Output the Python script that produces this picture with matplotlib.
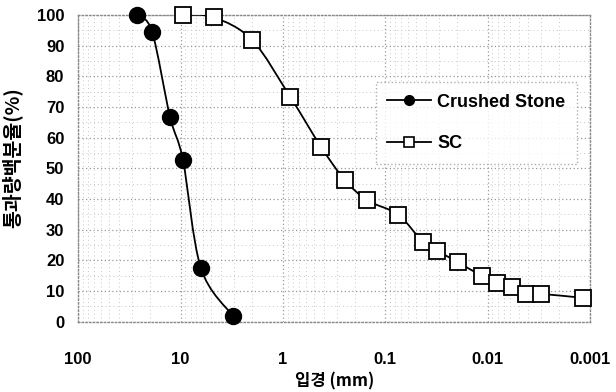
import numpy as np
import matplotlib
matplotlib.use('Agg')
import matplotlib.pyplot as plt
from matplotlib.path import Path
from matplotlib.patches import PathPatch
from matplotlib.ticker import FixedLocator, NullFormatter

# data
stone_d = [26.5, 19.0, 12.7, 9.5, 6.35, 3.1]
stone_pass = [100, 94.5, 66.8, 52.8, 17.6, 2.0]

sc_d = [9.5, 4.75, 2.0, 0.85, 0.425, 0.25, 0.15, 0.075, 0.043, 0.031,
        0.0197, 0.0115, 0.0081, 0.0058, 0.0042, 0.0030, 0.00117]
sc_pass = [100, 99.2, 91.8, 73.3, 57.0, 46.3, 39.6, 34.9, 26.0, 23.1,
           19.5, 15.0, 12.7, 11.4, 9.1, 9.1, 7.8]

x_ticks = [100, 10, 1, 0.1, 0.01, 0.001]
x_ticklabels = ['100', '10', '1', '0.1', '0.01', '0.001']
y_ticks = list(range(0, 101, 10))

kfont = ['Noto Sans CJK KR', 'DejaVu Sans']
plt.rcParams['font.family'] = ['Liberation Sans', 'DejaVu Sans']


def smooth_path(x, y, ax):
    """Excel-like smoothed line: Catmull-Rom in log-x space as cubic beziers"""
    lx = np.log10(np.asarray(x, float))
    yy = np.asarray(y, float)
    n = len(lx)
    verts = [(lx[0], yy[0])]
    codes = [Path.MOVETO]
    for i in range(n - 1):
        p0 = (lx[max(i - 1, 0)], yy[max(i - 1, 0)])
        p1 = (lx[i], yy[i])
        p2 = (lx[i + 1], yy[i + 1])
        p3 = (lx[min(i + 2, n - 1)], yy[min(i + 2, n - 1)])
        c1 = (p1[0] + (p2[0] - p0[0]) / 6, p1[1] + (p2[1] - p0[1]) / 6)
        c2 = (p2[0] - (p3[0] - p1[0]) / 6, p2[1] - (p3[1] - p1[1]) / 6)
        verts += [c1, c2, p2]
        codes += [Path.CURVE4] * 3
    verts = [(10 ** vx, vy) for vx, vy in verts]
    patch = PathPatch(Path(verts, codes), facecolor='none', edgecolor='black',
                      lw=1.3, transform=ax.transData, zorder=3)
    ax.add_patch(patch)


fig = plt.figure(figsize=(6.16, 3.92), dpi=100)
ax = fig.add_axes([0.127, 0.179, 0.831, 0.783])
ax.set_xscale('log')
ax.set_xlim(100, 0.001)
ax.set_ylim(0, 100)

smooth_path(stone_d, stone_pass, ax)
smooth_path(sc_d, sc_pass, ax)

ax.plot(stone_d, stone_pass, linestyle='none', marker='o', ms=11.5,
        mfc='black', mec='black', zorder=4, clip_on=False)
ax.plot(sc_d, sc_pass, linestyle='none', marker='s', ms=11, mfc='white',
        mec='black', mew=1.3, zorder=4, clip_on=False)

# legend handles (line + marker)
h1, = ax.plot([], [], color='black', lw=1.3, marker='o', ms=7, mfc='black',
              mec='black', label='Crushed Stone')
h2, = ax.plot([], [], color='black', lw=1.3, marker='s', ms=7, mfc='white',
              mec='black', mew=1.2, label='SC')
leg = ax.legend(handles=[h1, h2], loc='upper left', bbox_to_anchor=(0.581, 0.782),
                frameon=True, fancybox=False, fontsize=13, handlelength=2.4,
                labelspacing=1.35, borderpad=0.65, handletextpad=0.35,
                borderaxespad=0)
leg.get_frame().set_edgecolor('#999999')
leg.get_frame().set_linestyle(':')
leg.get_frame().set_linewidth(1.0)
for t in leg.get_texts():
    t.set_fontweight('bold')

ax.xaxis.set_major_locator(FixedLocator(x_ticks))
ax.set_xticklabels(x_ticklabels)
ax.xaxis.set_minor_locator(FixedLocator(
    [m * 10.0 ** e for e in range(-3, 2) for m in range(2, 10)]))
ax.xaxis.set_minor_formatter(NullFormatter())
ax.set_yticks(y_ticks)
ax.set_yticks(np.arange(0, 101, 5), minor=True)

ax.grid(True, which='major', linestyle=(0, (1, 2)), color='#999999', lw=0.9)
ax.grid(True, which='minor', linestyle=(0, (1, 3)), color='#c8c8c8', lw=0.7)
ax.set_axisbelow(True)
ax.tick_params(which='both', length=0)
ax.tick_params(axis='x', pad=22, labelsize=12)
ax.tick_params(axis='y', pad=10, labelsize=12)
for lab in ax.get_xticklabels() + ax.get_yticklabels():
    lab.set_fontweight('bold')
for sp in ax.spines.values():
    sp.set_linestyle(':')
    sp.set_color('#888888')
    sp.set_linewidth(1.0)

ax.set_xlabel('입경 (mm)', family=kfont, fontsize=12, fontweight='bold', labelpad=4)
ax.set_ylabel('통과량백분율(%)', family=kfont, fontsize=14, fontweight='bold')
ax.yaxis.set_label_coords(-0.11, 0.535)

fig.savefig('out.png', dpi=100)
